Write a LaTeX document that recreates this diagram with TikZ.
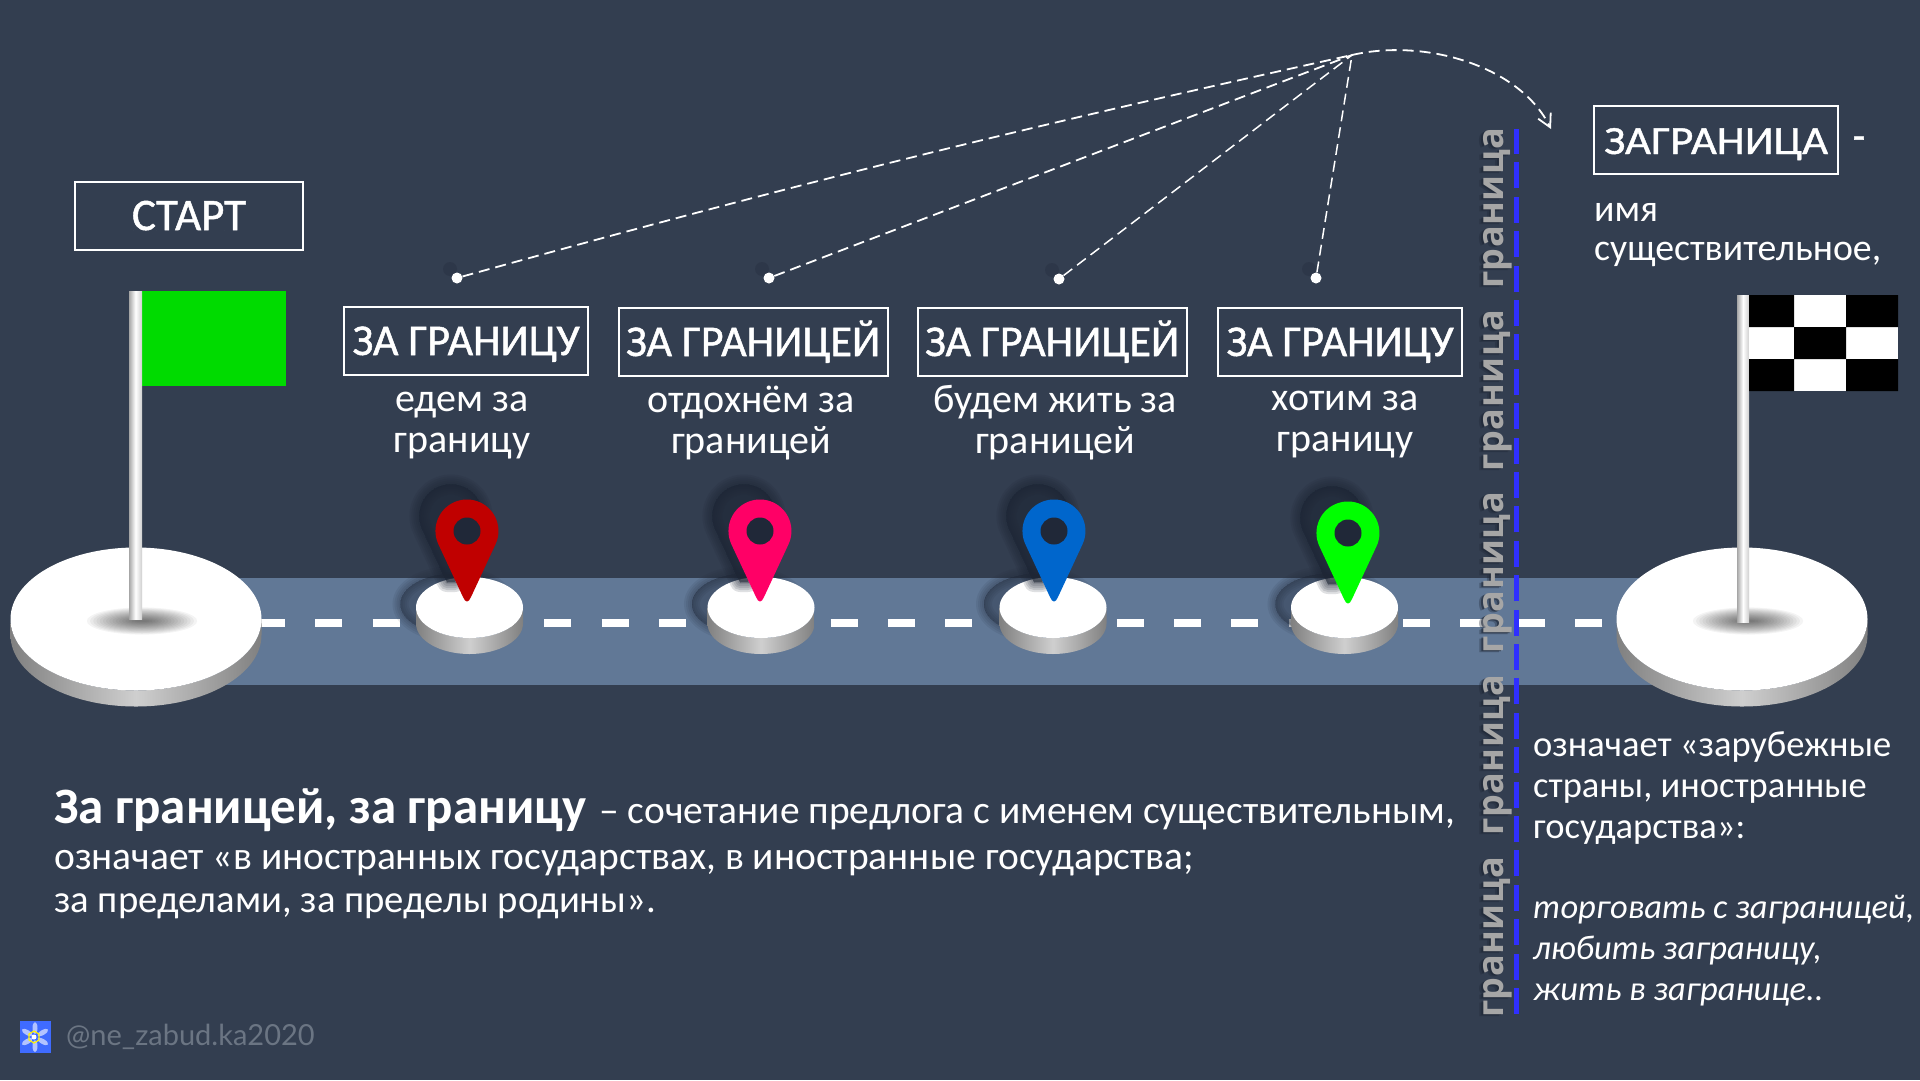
\documentclass[tikz,border=0pt]{standalone}
\usepackage{fontspec}
\setmainfont{Carlito}
\newfontfamily\headfont[FakeBold=1.1]{Carlito}
\newfontfamily\widefont[FakeBold=1.1,FakeStretch=1.12]{Carlito}
\newfontfamily\markfont{Lato}
\newfontfamily\borderfont[LetterSpace=1.5]{Open Sans}
\usetikzlibrary{arrows.meta}
\definecolor{slatebg}{HTML}{333E50}
\definecolor{roadblue}{HTML}{617896}
\definecolor{pinshade}{HTML}{1E2635}
\definecolor{sidegray}{HTML}{808080}
\definecolor{sidelight}{HTML}{CFCFCF}
\definecolor{linkblue}{HTML}{2F2FFF}
\definecolor{markgray}{HTML}{6B7583}
\definecolor{iconblue}{HTML}{3F6BFF}
\newcommand{\borderwords}{граница\hspace{21pt}граница\hspace{21pt}граница\hspace{21pt}граница\hspace{21pt}граница}
\tikzset{
  wordbox/.style={draw=white,line width=2pt,text=white,inner sep=0pt,text height=28pt,text depth=0pt},
  headword/.style={font=\headfont\fontsize{44}{44}\selectfont},
  caption/.style={text=white,align=center,inner sep=0pt,font=\fontsize{40}{41}\selectfont},
  bodytext/.style={text=white,anchor=base west,inner sep=0pt,font=\fontsize{39.5}{41}\selectfont},
  bodyblock/.style={text=white,anchor=north west,align=left,inner sep=0pt,font=\fontsize{36.5}{41}\selectfont},
  dotmark/.style={circle,fill=white,minimum size=11pt,inner sep=0pt},
  dashlink/.style={draw=white,line width=1.8pt,dash pattern=on 11pt off 6pt},
  bordertext/.style={anchor=base west,rotate=90,inner sep=0pt,font=\borderfont\bfseries\fontsize{36}{36}\selectfont},
  pole/.style={left color=sidegray!70,right color=sidelight,middle color=white}
}
\begin{document}
\begin{tikzpicture}[x=1pt,y=-1pt]
\useasboundingbox (0,0) rectangle (1920,1080);
\fill[slatebg] (0,0) rectangle (1920,1080);
% road
\fill[roadblue] (200,578) rectangle (1660,685);
\draw[white,line width=8pt,dash pattern=on 27pt off 30.26pt] (258,623)--(1604,623);
% small stands with pins
\foreach \n/\x/\px/\py/\c in {1/469.5/467/531/C00000,2/761/760/531/FF0066,3/1053/1054/531/0066CC,4/1344.5/1348/533/00FF00}{
  \definecolor{pincol}{HTML}{\c}
  \foreach \w in {0,4,...,16}
    \filldraw[pinshade,opacity=.09,line width=\w pt] (\x-16,604) ellipse[x radius=53pt,y radius=30pt];
  \path[left color=sidegray,right color=sidegray,middle color=sidelight]
    (\x-53.5,607.5) arc[start angle=180,end angle=360,x radius=53.5pt,y radius=30.5pt]
    --++(0,16) arc[start angle=360,end angle=180,x radius=53.5pt,y radius=30.5pt]--cycle;
  \fill[white] (\x,607.5) ellipse[x radius=53.5pt,y radius=30.5pt];
  \begin{scope}[shift={(\px-16,\py-15)}]
    \foreach \w in {0,4,...,20}
      \filldraw[pinshade,opacity=.14,line width=\w pt,line join=round]
        (28.5,13.3) arc[start angle=-25,end angle=205,radius=31.5pt]--(-4,66)--(4,66)--cycle;
  \end{scope}
  \begin{scope}[shift={(\px,\py)}]
    \fill[pincol] (28.5,13.3) arc[start angle=-25,end angle=205,radius=31.5pt]--(-4,66)
      ..controls(-1.5,72)and(1.5,72)..(4,66)--cycle;
    \fill[pinshade!90!slatebg] (0,0) circle[radius=13.5pt];
  \end{scope}
}
% big stands
\foreach \x in {136,1742}{
  \path[left color=sidegray,right color=sidegray,middle color=sidelight]
    (\x-125.5,619) arc[start angle=180,end angle=360,x radius=125.5pt,y radius=71.5pt]
    --++(0,16) arc[start angle=360,end angle=180,x radius=125.5pt,y radius=71.5pt]--cycle;
  \fill[white] (\x,619) ellipse[x radius=125.5pt,y radius=71.5pt];
  \foreach \k in {1,...,16}
    \fill[black,opacity=.045] (\x+6,621) ellipse[x radius=4+3.2*\k,y radius=.85*\k];
}
% flags
\fill[green!86!black] (142,291) rectangle (286,386);
\path[pole] (129,291) rectangle (142,619);
\path[pole] (1737,295) rectangle (1749,622);
\fill[white] (1749,295) rectangle (1898,391);
\fill[black] (1749,295) rectangle (1794,327) (1846,295) rectangle (1898,327)
  (1794,327) rectangle (1846,359)
  (1749,359) rectangle (1794,391) (1846,359) rectangle (1898,391);
% word boxes
\node[wordbox,minimum width=228pt,minimum height=68pt,font=\headfont\fontsize{45}{45}\selectfont] (start) at (189,216){СТАРТ\hspace{14pt}};
\node[wordbox,headword,minimum width=244pt,minimum height=68pt] (box1) at (466,341){ЗА ГРАНИЦУ};
\node[wordbox,headword,minimum width=269pt,minimum height=68pt] (box2) at (753,342){ЗА ГРАНИЦЕЙ};
\node[wordbox,headword,minimum width=269pt,minimum height=68pt] (box3) at (1052,342){ЗА ГРАНИЦЕЙ};
\node[wordbox,headword,minimum width=244pt,minimum height=68pt] (box4) at (1340,342){ЗА ГРАНИЦУ};
\node[caption] (cap1) at (462,426){едем за\\границу};
\node[caption] (cap2) at (751,423){отдохнём за\\границей};
\node[caption] (cap3) at (1055,423){будем жить за\\границей};
\node[caption] (cap4) at (1345,425){хотим за\\границу};
% leader lines
\coordinate (hub) at (1352,55);
\coordinate (tip) at (1551,129);
\foreach \n/\x/\y in {1/457/278,2/769/278,3/1059/279,4/1316/278}{
  \fill[pinshade,opacity=.25] (\x-7,\y-9) circle[radius=7pt];
  \node[dotmark] (dot\n) at (\x,\y){};
}
\draw[dashlink] (dot1) to[bend left=1.5] (hub);
\draw[dashlink] (dot2)--(hub);
\draw[dashlink,line width=1.5pt] (dot3)--(hub);
\draw[dashlink,line width=1.5pt] (dot4)--(hub);
\draw[dashlink,-{Straight Barb[length=13pt,width=14pt]}] (hub)..controls(1425,38)and(1520,66)..(tip);
% border
\node[bordertext,text=pinshade,opacity=.35] (bordershadeb) at (1499,1020){\borderwords};
\node[bordertext,text=pinshade,opacity=.6] (bordershade) at (1501,1019){\borderwords};
\node[bordertext,text=black!35] (border) at (1503,1018){\borderwords};
\draw[linkblue,line width=5pt,dash pattern=on 26pt off 8.4pt] (1516,1014)--(1516,129);
% definition
\node[wordbox,minimum width=244pt,minimum height=68pt,font=\widefont\fontsize{40}{40}\selectfont] (zagr) at (1716,140){ЗАГРАНИЦА};
\node[text=white,font=\headfont\fontsize{40}{40}\selectfont] (zdash) at (1859,143){-};
\node[bodytext,font=\fontsize{37.8}{41}\selectfont] (zname) at (1594,221){имя};
\node[bodytext,font=\fontsize{37.8}{41}\selectfont] (zkind) at (1594,260){существительное,};
\node[bodyblock] (zmean) at (1533,731){означает «зарубежные\\страны, иностранные\\государства»:};
\node[bodyblock,font=\itshape\fontsize{34.5}{41}\selectfont] (zuse) at (1533,895){торговать с заграницей,\\любить заграницу,\\жить в загранице..};
% lower text
\node[bodytext,font=\bfseries\fontsize{51}{51}\selectfont] (head) at (54,823){За границей, за границу};
\node[bodytext] (line1) at (599,823){– сочетание предлога с именем существительным,};
\node[bodytext] (line2) at (54,869){означает «в иностранных государствах, в иностранные государства;};
\node[bodytext,font=\fontsize{38.7}{41}\selectfont] (line3) at (54,912){за пределами, за пределы родины».};
% watermark
\fill[iconblue] (20,1021) rectangle (51,1053);
\foreach \a in {30,90,...,330}
  \fill[white,opacity=.6,rotate around={\a:(35,1037)}] (44,1037) ellipse[x radius=6,y radius=2.5];
\draw[yellow,line width=1.2pt] (34,1031)--(39,1034)--(39,1040)--(34,1043)--(29,1040)--(29,1034)--cycle;
\fill[white] (34,1037) circle[radius=2.5pt];
\node[anchor=base west,inner sep=0pt,text=markgray,font=\markfont\fontsize{29}{29}\selectfont] (mark) at (66,1045){@ne\_zabud.ka2020};
\end{tikzpicture}
\end{document}
